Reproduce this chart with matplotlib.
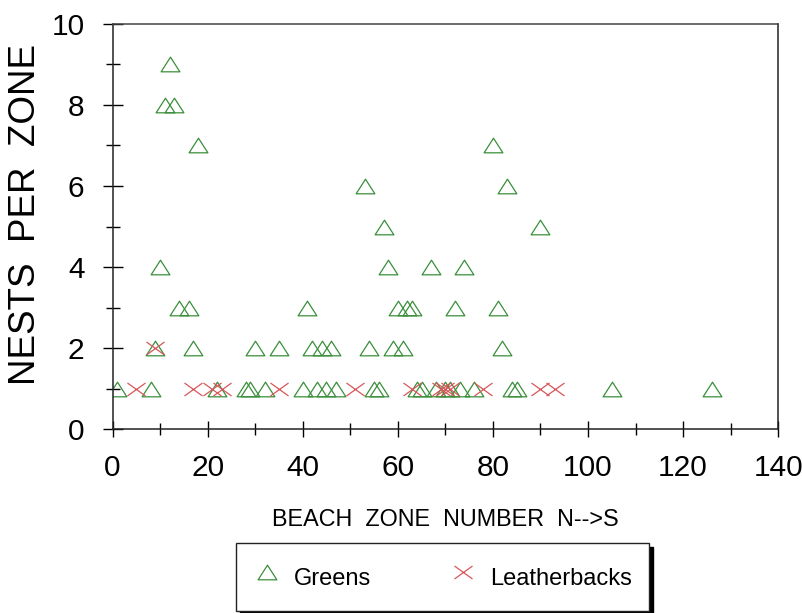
import matplotlib

matplotlib.use("Agg")
import matplotlib.pyplot as plt
from matplotlib.path import Path
from matplotlib.ticker import MultipleLocator

plt.rcParams["font.family"] = ["Liberation Sans", "DejaVu Sans"]

GREEN = "#3a8f3a"
RED = "#d9575a"

# Greens: nests per beach zone
greens_zone = [12, 11, 13, 18, 80, 53, 83, 57, 90, 10, 58, 67, 74,
               14, 16, 41, 60, 62, 63, 72, 81,
               9, 17, 30, 35, 42, 44, 46, 54, 59, 61, 82,
               1, 8, 22, 28, 29, 32, 40, 43, 45, 47, 55, 56, 64, 65,
               68, 70, 71, 73, 76, 84, 85, 105, 126]
greens_nests = [9, 8, 8, 7, 7, 6, 6, 5, 5, 4, 4, 4, 4,
                3, 3, 3, 3, 3, 3, 3, 3,
                2, 2, 2, 2, 2, 2, 2, 2, 2, 2, 2,
                1, 1, 1, 1, 1, 1, 1, 1, 1, 1, 1, 1, 1, 1,
                1, 1, 1, 1, 1, 1, 1, 1, 1]

# Leatherbacks
leather_zone = [9, 5, 17, 21, 23, 35, 51, 63, 69, 70, 71, 78, 90, 93]
leather_nests = [2, 1, 1, 1, 1, 1, 1, 1, 1, 1, 1, 1, 1, 1]

# flattened open triangle and flattened cross, like the original plot
TRI = Path([(0, 0.78), (-1, -0.78), (1, -0.78), (0, 0.78)],
           [Path.MOVETO, Path.LINETO, Path.LINETO, Path.CLOSEPOLY])
CROSS = Path([(-1, -0.72), (1, 0.72), (-1, 0.72), (1, -0.72)],
             [Path.MOVETO, Path.LINETO, Path.MOVETO, Path.LINETO])

fig = plt.figure(figsize=(8.02, 6.13), dpi=100)
ax = fig.add_axes([0.1403, 0.300, 0.830, 0.661])

ax.plot(greens_zone, greens_nests, linestyle="none", marker=TRI,
        markersize=13.5, markerfacecolor="none", markeredgecolor=GREEN,
        markeredgewidth=0.9, label="Greens")
ax.plot(leather_zone, leather_nests, linestyle="none", marker=CROSS,
        markersize=13, markeredgecolor=RED, color=RED,
        markeredgewidth=0.9, label="Leatherbacks")

ax.set_xlim(0, 140)
ax.set_ylim(0, 10)
ax.xaxis.set_major_locator(MultipleLocator(20))
ax.xaxis.set_minor_locator(MultipleLocator(10))
ax.yaxis.set_major_locator(MultipleLocator(2))
ax.yaxis.set_minor_locator(MultipleLocator(1))

for side in ("left", "bottom", "right"):
    ax.spines[side].set_linewidth(1.1)
    ax.spines[side].set_color("#222222")
ax.spines["top"].set_linewidth(1.1)
ax.spines["top"].set_color("#444444")

ax.tick_params(axis="x", which="major", direction="inout", length=11.5,
               width=1.0, pad=12, labelsize=21.5)
ax.tick_params(axis="x", which="minor", direction="inout", length=8, width=1.0)
ax.tick_params(axis="y", which="major", direction="inout", length=14.5,
               width=1.0, pad=13, labelsize=21.5)
ax.tick_params(axis="y", which="minor", direction="inout", length=10, width=1.0)

ax.set_xlabel("BEACH  ZONE  NUMBER  N-->S", fontsize=16.8, va="center")
ax.xaxis.set_label_coords(0.5, -0.222)
ax.set_ylabel("NESTS  PER  ZONE", fontsize=26.5, va="center")
ax.yaxis.set_label_coords(-0.131, 0.53)

leg = fig.legend(loc="upper left", bbox_to_anchor=(236 / 802, 1 - 543 / 613),
                 ncol=2, fontsize=17, frameon=True, fancybox=False,
                 shadow={"color": "black", "alpha": 1.0, "ox": 3, "oy": -3},
                 borderpad=0.7, handletextpad=0.55, columnspacing=3.3,
                 handlelength=1.2, handleheight=1.9, borderaxespad=0)
leg.get_frame().set_edgecolor("#222222")
leg.get_frame().set_linewidth(1.0)

fig.savefig("out.png", dpi=100, facecolor="white")
